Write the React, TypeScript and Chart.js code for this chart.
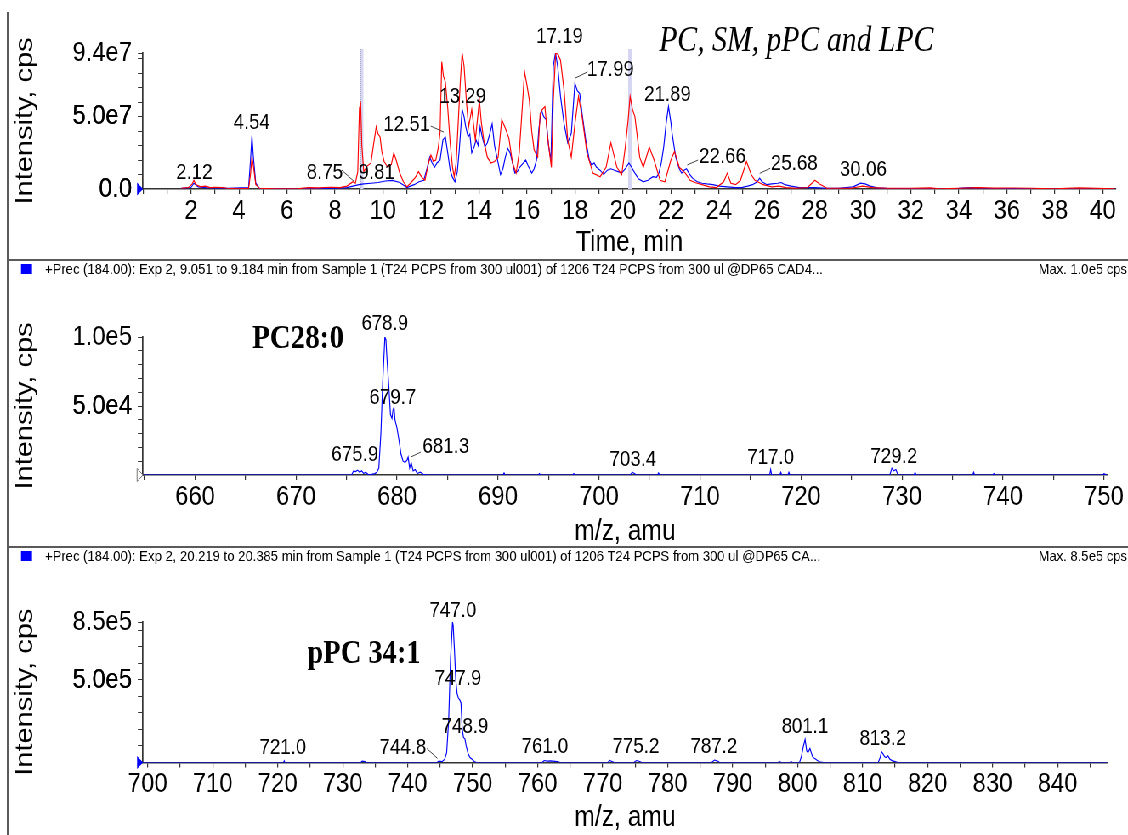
import React, { useEffect, useRef } from "react";
import { Chart, registerables } from "chart.js";
Chart.register(...registerables);

const SANS = '"Liberation Sans", Arial, sans-serif';
const SERIF = '"Liberation Serif", "Times New Roman", serif';

// ---------- Panel 1: chromatogram (time, min; intensity in 1e7 cps) ----------
const redTime = [1.6, 1.9, 2.05, 2.12, 2.2, 2.4, 2.6, 2.8, 3.0, 3.3, 3.5, 4.0, 4.4, 4.48, 4.54, 4.6, 4.7, 4.85, 5.5, 6.5, 6.9, 7.3, 7.8, 8.2, 8.5, 8.75, 8.85, 8.95, 9.02, 9.07, 9.12, 9.2, 9.35, 9.5, 9.62, 9.72, 9.8, 9.88, 9.95, 10.05, 10.2, 10.35, 10.45, 10.55, 10.7, 10.85, 11.0, 11.2, 11.35, 11.48, 11.62, 11.75, 11.9, 12.0, 12.1, 12.2, 12.3, 12.38, 12.45, 12.52, 12.6, 12.7, 12.8, 12.9, 12.97, 13.05, 13.15, 13.22, 13.3, 13.38, 13.48, 13.57, 13.7, 13.85, 13.95, 14.02, 14.1, 14.2, 14.35, 14.5, 14.65, 14.8, 14.95, 15.1, 15.25, 15.4, 15.55, 15.68, 15.8, 15.9, 16.0, 16.1, 16.2, 16.3, 16.45, 16.55, 16.65, 16.75, 16.85, 16.95, 17.02, 17.1, 17.2, 17.3, 17.4, 17.55, 17.7, 17.85, 18.0, 18.15, 18.3, 18.5, 18.75, 19.05, 19.3, 19.5, 19.75, 19.95, 20.1, 20.22, 20.3, 20.4, 20.5, 20.7, 20.85, 21.1, 21.3, 21.55, 21.75, 22.0, 22.15, 22.35, 22.6, 22.8, 23.0, 23.3, 23.6, 23.9, 24.2, 24.35, 24.5, 24.7, 24.9, 25.15, 25.35, 25.5, 25.85, 26.2, 26.5, 26.8, 27.2, 27.7, 28.0, 28.2, 28.5, 29.0, 29.5, 30.0, 30.4, 31.0, 32.0, 32.8, 33.2, 34.0, 34.8, 35.5, 36.3, 37.0, 38.0, 39.0, 40.5];
const redIntensity = [0.05, 0.1, 0.35, 0.6, 0.3, 0.15, 0.2, 0.1, 0.12, 0.1, 0.05, 0.02, 0.05, 1.0, 2.2, 1.6, 0.3, 0.05, 0.02, 0.03, 0.1, 0.08, 0.12, 0.1, 0.2, 0.5, 0.4, 1.2, 5.6, 5.9, 3.0, 1.2, 1.6, 1.8, 3.2, 4.3, 3.8, 3.6, 2.6, 1.9, 1.5, 1.7, 2.5, 2.0, 1.1, 0.5, 0.15, 0.5, 0.8, 1.2, 0.8, 0.6, 1.8, 2.35, 1.9, 2.0, 2.8, 3.9, 8.8, 7.8, 7.4, 5.6, 3.2, 1.5, 0.85, 1.8, 5.0, 7.3, 9.4, 8.5, 6.0, 4.3, 5.5, 3.4, 5.0, 6.15, 4.6, 3.4, 2.2, 1.8, 1.9, 2.2, 4.8, 4.2, 3.5, 1.8, 1.1, 2.5, 5.5, 8.1, 7.2, 6.15, 4.0, 2.7, 2.2, 5.2, 5.5, 5.7, 3.8, 2.4, 1.5, 6.15, 9.4, 9.3, 8.9, 6.8, 3.4, 2.2, 4.5, 6.4, 5.0, 2.5, 1.1, 0.85, 1.5, 3.2, 1.5, 1.0, 2.9, 4.8, 6.4, 5.5, 5.0, 2.2, 1.5, 2.9, 2.0, 0.6, 0.5, 2.0, 2.6, 1.5, 1.1, 0.6, 0.45, 0.3, 0.15, 0.1, 0.5, 1.1, 0.4, 0.3, 0.6, 1.9, 1.0, 0.6, 0.3, 0.15, 0.2, 0.1, 0.05, 0.1, 0.6, 0.35, 0.05, 0.05, 0.05, 0.2, 0.1, 0.05, 0.05, 0.08, 0.02, 0.05, 0.1, 0.06, 0.07, 0.05, 0.02, 0.08, 0.02];
const blueTime = [1.6, 2.0, 2.12, 2.3, 2.6, 3.0, 3.5, 4.4, 4.48, 4.54, 4.6, 4.7, 4.85, 5.5, 7.0, 8.0, 8.5, 8.75, 9.0, 9.2, 9.5, 9.8, 10.1, 10.4, 10.7, 11.0, 11.3, 11.5, 11.7, 11.85, 11.95, 12.05, 12.15, 12.25, 12.38, 12.5, 12.6, 12.7, 12.8, 12.9, 13.0, 13.1, 13.18, 13.3, 13.38, 13.45, 13.55, 13.62, 13.7, 13.8, 13.88, 13.97, 14.05, 14.15, 14.25, 14.35, 14.45, 14.55, 14.65, 14.75, 14.9, 15.0, 15.1, 15.2, 15.3, 15.4, 15.5, 15.6, 15.7, 15.85, 15.95, 16.05, 16.2, 16.3, 16.4, 16.5, 16.6, 16.7, 16.8, 16.9, 17.0, 17.1, 17.19, 17.28, 17.4, 17.55, 17.7, 17.85, 18.0, 18.1, 18.2, 18.3, 18.45, 18.6, 18.7, 18.8, 18.9, 19.05, 19.2, 19.35, 19.5, 19.65, 19.8, 19.95, 20.1, 20.25, 20.4, 20.5, 20.65, 20.85, 21.05, 21.25, 21.4, 21.5, 21.6, 21.7, 21.8, 21.9, 22.0, 22.05, 22.2, 22.35, 22.45, 22.55, 22.65, 22.75, 22.9, 23.1, 23.3, 23.5, 23.75, 24.0, 24.35, 24.7, 24.95, 25.2, 25.4, 25.6, 25.7, 25.8, 26.0, 26.2, 26.45, 26.6, 26.75, 27.0, 27.35, 28.0, 28.5, 29.0, 29.6, 29.9, 30.1, 30.3, 30.6, 31.0, 32.0, 33.0, 34.0, 34.5, 35.0, 36.0, 38.0, 40.5];
const blueIntensity = [0.05, 0.1, 0.4, 0.15, 0.1, 0.08, 0.05, 0.1, 2.0, 3.7, 2.2, 0.4, 0.05, 0.02, 0.03, 0.05, 0.1, 0.2, 0.3, 0.35, 0.4, 0.45, 0.55, 0.6, 0.45, 0.1, 0.3, 0.5, 0.6, 1.5, 2.2, 1.8, 1.5, 1.8, 2.0, 3.4, 3.6, 2.5, 1.3, 0.8, 0.5, 1.2, 2.7, 5.5, 5.0, 4.3, 3.6, 3.8, 2.5, 2.9, 3.4, 3.0, 4.3, 3.5, 2.9, 3.2, 3.8, 4.5, 3.0, 2.2, 1.0, 1.4, 2.2, 2.8, 2.5, 1.8, 1.1, 1.2, 1.5, 1.8, 2.0, 1.6, 1.1, 1.4, 2.0, 4.2, 5.5, 5.0, 4.8, 3.0, 2.0, 8.5, 9.4, 8.5, 6.4, 4.5, 3.2, 3.85, 7.3, 6.8, 6.6, 5.2, 3.4, 2.0, 1.65, 1.8, 1.5, 1.3, 1.0, 1.3, 1.4, 1.3, 1.2, 1.1, 1.4, 1.8, 1.4, 1.1, 0.7, 0.5, 0.6, 0.85, 0.8, 1.1, 1.8, 2.9, 4.5, 5.7, 4.6, 3.85, 2.2, 1.4, 1.1, 1.3, 1.4, 1.1, 0.75, 0.5, 0.4, 0.35, 0.3, 0.2, 0.15, 0.1, 0.1, 0.2, 0.3, 0.5, 0.75, 0.5, 0.3, 0.35, 0.4, 0.45, 0.3, 0.2, 0.1, 0.1, 0.05, 0.05, 0.15, 0.4, 0.35, 0.2, 0.08, 0.05, 0.03, 0.03, 0.05, 0.1, 0.05, 0.03, 0.02, 0.02];
const chromXTickValues = [2, 4, 6, 8, 10, 12, 14, 16, 18, 20, 22, 24, 26, 28, 30, 32, 34, 36, 38, 40];
const chromXTickLabels = ["2", "4", "6", "8", "10", "12", "14", "16", "18", "20", "22", "24", "26", "28", "30", "32", "34", "36", "38", "40"];
const chromYTickValues = [0, 5, 9.4];
const chromYTickLabels = ["0.0", "5.0e7", "9.4e7"];
const chromPeakLabels = ["2.12", "4.54", "8.75", "9.81", "12.51", "13.29", "17.19", "17.99", "21.89", "22.66", "25.68", "30.06"];
const spectrumTimeRanges = [[9.051, 9.184], [20.219, 20.385]];

// ---------- Panel 2: spectrum 9.051-9.184 min (m/z; intensity in 1e4 cps) ----------
const spec1Mz = [654.85, 675.5, 675.7, 675.9, 676.1, 676.3, 676.5, 676.7, 676.9, 677.2, 677.8, 678.0, 678.2, 678.4, 678.6, 678.8, 678.9, 679.0, 679.2, 679.35, 679.5, 679.6, 679.7, 679.8, 680.0, 680.2, 680.4, 680.6, 680.8, 681.0, 681.1, 681.25, 681.4, 681.6, 681.8, 682.0, 682.3, 682.6, 683.0, 690.5, 690.6, 690.7, 694.0, 694.1, 694.2, 697.4, 697.5, 697.6, 703.1, 703.3, 703.5, 703.7, 705.8, 705.9, 706.0, 716.9, 717.0, 717.1, 717.9, 718.0, 718.1, 718.7, 718.8, 718.9, 728.8, 729.0, 729.2, 729.4, 729.6, 731.2, 731.3, 731.4, 737.0, 737.1, 737.2, 739.0, 739.1, 739.2, 749.9, 750.0, 750.3];
const spec1Intensity = [0, 0, 0.3, 0.25, 0.35, 0.2, 0.3, 0.1, 0.2, 0, 0.1, 0.2, 0.5, 3.0, 7.0, 10.0, 9.8, 8.5, 6.3, 4.4, 4.1, 4.7, 4.9, 4.0, 3.4, 2.5, 1.5, 1.0, 0.9, 1.1, 1.3, 0.5, 0.9, 0.3, 0.4, 0.1, 0.2, 0.05, 0, 0, 0.15, 0, 0, 0.1, 0, 0, 0.1, 0, 0, 0.2, 0.1, 0, 0, 0.15, 0, 0, 0.4, 0, 0, 0.2, 0, 0, 0.2, 0, 0, 0.5, 0.3, 0.4, 0, 0, 0.2, 0, 0, 0.2, 0, 0, 0.1, 0, 0, 0.1, 0];
const spec1XTickValues = [660, 670, 680, 690, 700, 710, 720, 730, 740, 750];
const spec1XTickLabels = ["660", "670", "680", "690", "700", "710", "720", "730", "740", "750"];
const spec1YTickValues = [5, 10];
const spec1YTickLabels = ["5.0e4", "1.0e5"];
const spec1PeakLabels = ["678.9", "679.7", "675.9", "681.3", "703.4", "717.0", "729.2"];

// ---------- Panel 3: spectrum 20.219-20.385 min (m/z; intensity in 1e5 cps) ----------
const spec2Mz = [699.28, 720.9, 721.0, 721.1, 732.8, 733.0, 733.4, 733.6, 744.5, 744.8, 745.3, 745.7, 746.0, 746.3, 746.6, 746.9, 747.0, 747.2, 747.4, 747.6, 747.8, 748.0, 748.2, 748.4, 748.6, 748.8, 749.0, 749.3, 749.6, 749.9, 750.3, 750.6, 760.7, 761.0, 761.5, 762.0, 763.0, 763.5, 770.8, 771.1, 771.5, 771.8, 774.8, 775.2, 775.6, 776.0, 786.8, 787.2, 787.6, 788.0, 797.0, 797.2, 797.5, 798.8, 799.0, 799.2, 800.3, 800.6, 800.9, 801.15, 801.4, 801.6, 801.9, 802.1, 802.3, 802.6, 802.8, 803.1, 803.5, 804.0, 812.4, 812.7, 812.9, 813.1, 813.4, 813.6, 813.9, 814.2, 814.6, 815.0, 815.4, 847.6];
const spec2Intensity = [0, 0, 0.1, 0, 0, 0.08, 0.05, 0, 0, 0.08, 0.05, 0.2, 0.6, 2.5, 6.3, 8.5, 8.3, 6.8, 5.0, 4.2, 3.9, 3.8, 3.6, 2.0, 1.5, 1.45, 1.0, 0.55, 0.3, 0.2, 0.05, 0, 0, 0.12, 0.08, 0.1, 0.05, 0, 0, 0.12, 0.05, 0, 0, 0.12, 0.08, 0, 0, 0.15, 0.1, 0, 0, 0.05, 0, 0, 0.05, 0, 0, 0.4, 1.0, 1.4, 0.7, 0.6, 0.85, 0.6, 0.35, 0.25, 0.2, 0.1, 0.02, 0, 0, 0.3, 0.65, 0.55, 0.35, 0.3, 0.4, 0.2, 0.1, 0.05, 0, 0];
const spec2XTickValues = [700, 710, 720, 730, 740, 750, 760, 770, 780, 790, 800, 810, 820, 830, 840];
const spec2XTickLabels = ["700", "710", "720", "730", "740", "750", "760", "770", "780", "790", "800", "810", "820", "830", "840"];
const spec2YTickValues = [5, 8.5];
const spec2YTickLabels = ["5.0e5", "8.5e5"];
const spec2PeakLabels = ["747.0", "747.9", "748.9", "721.0", "744.8", "761.0", "775.2", "787.2", "801.1", "813.2"];

// ---------- layout: the figure is drawn wide and squeezed horizontally ----------
const W = 1327;              // internal drawing width
const SX = 1128 / W;         // horizontal squeeze of the whole figure
const X = (px: number) => px / SX;

type Pt = [number, number];
type Panel = {
  top: number; height: number; chartTop: number; chartBottom: number; chartRight: number;
  xMin: number; xMax: number; yMax: number; minorX: number; minorY: number[];
  xTickValues: number[]; xTickLabels: string[]; yTickValues: number[]; yTickLabels: string[];
  xTitle: string; xTitlePad: number;
  series: { xs: number[]; ys: number[]; color: string }[];
  labels: { text: string; at: Pt }[];
  leaders: [Pt, Pt][];
  bigText?: { text: string; at: Pt; font: string };
  bands?: number[][];
  marker: "filled" | "hollow";
  header?: { text: string; max: string; y: number };
};

const range = (a: number, b: number, s: number) => { const r: number[] = []; for (let v = a; v <= b + 1e-9; v += s) r.push(+v.toFixed(4)); return r; };

const panels: Panel[] = [
  {
    top: 0, height: 260, chartTop: 53, chartBottom: 189, chartRight: X(1116),
    xMin: 0, xMax: 40.55, yMax: 9.4, minorX: 1, minorY: range(1, 9, 1),
    xTickValues: chromXTickValues, xTickLabels: chromXTickLabels,
    yTickValues: chromYTickValues, yTickLabels: chromYTickLabels,
    xTitle: "Time, min", xTitlePad: 3,
    series: [
      { xs: redTime, ys: redIntensity, color: "#ff0000" },
      { xs: blueTime, ys: blueIntensity, color: "#0000ff" },
    ],
    labels: chromPeakLabels.map((t, i) => ({ text: t, at: ([[2.14, 1.1], [4.53, 4.58], [7.58, 1.1], [9.74, 1.1], [10.99, 4.42], [13.32, 6.36], [17.36, 10.5], [19.48, 8.22], [21.86, 6.5], [24.15, 2.21], [27.14, 1.73], [30.02, 1.31]] as Pt[])[i] })),
    leaders: [[[8.28, 1.31], [8.81, 0.5]], [[11.99, 4.35], [12.53, 3.94]], [[18.0, 7.65], [18.53, 8.1]], [[22.68, 1.66], [23.13, 2.0]], [[25.7, 1.08], [26.14, 1.43]]],
    bigText: { text: "PC, SM, pPC and LPC", at: [27.23, 10.2], font: `italic 35px ${SERIF}` },
    bands: spectrumTimeRanges,
    marker: "filled",
  },
  {
    top: 260, height: 287, chartTop: 77, chartBottom: 215, chartRight: X(1107),
    xMin: 654.85, xMax: 750.3, yMax: 10, minorX: 5, minorY: range(1, 9, 1),
    xTickValues: spec1XTickValues, xTickLabels: spec1XTickLabels,
    yTickValues: spec1YTickValues, yTickLabels: spec1YTickLabels,
    xTitle: "m/z, amu", xTitlePad: 1,
    series: [{ xs: spec1Mz, ys: spec1Intensity, color: "#0000ff" }],
    labels: spec1PeakLabels.map((t, i) => ({ text: t, at: ([[678.79, 10.97], [679.58, 5.56], [675.82, 1.44], [684.83, 2.02], [703.35, 1.08], [717.0, 1.23], [729.2, 1.3]] as Pt[])[i] })),
    leaders: [[[681.36, 1.3], [682.35, 1.66]]],
    bigText: { text: "PC28:0", at: [670.2, 9.81], font: `bold 34px ${SERIF}` },
    marker: "hollow",
    header: { text: "+Prec (184.00): Exp 2, 9.051 to 9.184 min from Sample 1 (T24 PCPS from 300 ul001) of 1206 T24 PCPS from 300 ul @DP65 CAD4...", max: "Max. 1.0e5 cps", y: 10 },
  },
  {
    top: 547, height: 288, chartTop: 75, chartBottom: 215.5, chartRight: X(1107),
    xMin: 699.28, xMax: 847.6, yMax: 8.5, minorX: 5, minorY: range(1, 8, 1),
    xTickValues: spec2XTickValues, xTickLabels: spec2XTickLabels,
    yTickValues: spec2YTickValues, yTickLabels: spec2YTickLabels,
    xTitle: "m/z, amu", xTitlePad: 3,
    series: [{ xs: spec2Mz, ys: spec2Intensity, color: "#0000ff" }],
    labels: spec2PeakLabels.map((t, i) => ({ text: t, at: ([[746.97, 9.15], [747.74, 5.07], [748.82, 2.13], [720.8, 0.87], [739.28, 0.87], [761.12, 0.93], [775.12, 0.93], [787.12, 0.93], [801.12, 2.13], [813.12, 1.41]] as Pt[])[i] })),
    leaders: [[[742.94, 0.85], [744.58, 0.25]]],
    bigText: { text: "pPC 34:1", at: [733.28, 6.57], font: `bold 33.5px ${SERIF}` },
    marker: "filled",
    header: { text: "+Prec (184.00): Exp 2, 20.219 to 20.385 min from Sample 1 (T24 PCPS from 300 ul001) of 1206 T24 PCPS from 300 ul @DP65 CA...", max: "Max. 8.5e5 cps", y: 10 },
  },
];

function text(ctx: CanvasRenderingContext2D, s: string, x: number, y: number, font: string, align: CanvasTextAlign = "center") {
  ctx.save();
  ctx.font = font;
  ctx.textAlign = align;
  ctx.textBaseline = "middle";
  ctx.fillStyle = "#000";
  ctx.fillText(s, x, y);
  ctx.restore();
}

function overlay(p: Panel) {
  return {
    id: "overlay",
    beforeDatasetsDraw(chart: any) {
      const ctx = chart.ctx as CanvasRenderingContext2D;
      const xs = chart.scales.x, a = chart.chartArea;
      (p.bands || []).forEach((b, i) => {
        const x1 = xs.getPixelForValue(b[0]), x2 = xs.getPixelForValue(b[1]);
        ctx.save();
        ctx.fillStyle = "#d6d6f3";
        ctx.fillRect(x1, a.top - 4, x2 - x1, a.bottom - a.top + 4);
        if (i === 0) {
          ctx.strokeStyle = "#555";
          ctx.lineWidth = 1.2;
          ctx.setLineDash([1, 1]);
          ctx.beginPath();
          ctx.moveTo(x1, a.top - 4);
          ctx.lineTo(x1, a.bottom);
          ctx.stroke();
        }
        ctx.restore();
      });
    },
    afterDraw(chart: any) {
      const ctx = chart.ctx as CanvasRenderingContext2D;
      const xs = chart.scales.x, ys = chart.scales.y, a = chart.chartArea;
      const P = (pt: Pt): Pt => [xs.getPixelForValue(pt[0]), ys.getPixelForValue(pt[1])];
      const lf = `22px ${SANS}`;
      p.labels.forEach((l) => { const [x, y] = P(l.at); text(ctx, l.text, x, y, lf); });
      ctx.save();
      ctx.strokeStyle = "#444";
      ctx.lineWidth = 1;
      p.leaders.forEach(([s, e]) => {
        const [x1, y1] = P(s), [x2, y2] = P(e);
        ctx.beginPath(); ctx.moveTo(x1, y1); ctx.lineTo(x2, y2); ctx.stroke();
      });
      ctx.restore();
      if (p.bigText) { const [x, y] = P(p.bigText.at); text(ctx, p.bigText.text, x, y, p.bigText.font, "center"); }
      // baseline marker triangle
      ctx.save();
      ctx.beginPath();
      ctx.moveTo(a.left - 7, a.bottom - 6.5);
      ctx.lineTo(a.left - 7, a.bottom + 6.5);
      ctx.lineTo(a.left, a.bottom);
      ctx.closePath();
      if (p.marker === "filled") { ctx.fillStyle = "#0000ff"; ctx.fill(); }
      else { ctx.fillStyle = "#fff"; ctx.fill(); ctx.strokeStyle = "#777"; ctx.lineWidth = 1; ctx.stroke(); }
      ctx.restore();
      if (p.header) {
        ctx.save();
        ctx.fillStyle = "#0000ff";
        ctx.fillRect(X(21), p.header.y - 6, X(11), 10);
        ctx.restore();
        text(ctx, p.header.text, X(45), p.header.y, `15.4px ${SANS}`, "left");
        text(ctx, p.header.max, W - 1, p.header.y, `15.4px ${SANS}`, "right");
      }
    },
  };
}

function PanelChart({ p }: { p: Panel }) {
  const ref = useRef<HTMLCanvasElement | null>(null);
  useEffect(() => {
    const canvas = ref.current!;
    const minorXs = range(Math.ceil(p.xMin / p.minorX) * p.minorX, p.xMax, p.minorX);
    const chart = new Chart(canvas, {
      type: "line",
      data: {
        datasets: p.series.map((s) => ({
          data: s.xs.map((x, i) => ({ x, y: s.ys[i] })),
          borderColor: s.color,
          borderWidth: 1.15,
          pointRadius: 0,
          fill: false,
          tension: 0,
        })),
      },
      options: {
        responsive: false,
        animation: false,
        devicePixelRatio: 1,
        events: [],
        layout: { padding: { top: p.chartTop, right: W - p.chartRight, left: 0, bottom: 0 } },
        plugins: { legend: { display: false }, tooltip: { enabled: false } },
        scales: {
          x: {
            type: "linear",
            min: p.xMin,
            max: p.xMax,
            afterBuildTicks: (s: any) => { s.ticks = minorXs.map((v) => ({ value: v })); },
            afterFit: (s: any) => { s.height = p.height - p.chartBottom; },
            ticks: {
              autoSkip: false, maxRotation: 0, minRotation: 0, padding: 3, color: "#000",
              font: { family: SANS, size: 28, lineHeight: 1 },
              callback: (v: any) => { const i = p.xTickValues.findIndex((t) => Math.abs(t - v) < 1e-6); return i >= 0 ? p.xTickLabels[i] : ""; },
            },
            grid: { display: true, drawOnChartArea: false, drawTicks: true, tickLength: 5, color: "#333", lineWidth: 1.2 },
            border: { display: true, color: "#333", width: 1.5 },
            title: { display: true, text: p.xTitle, color: "#000", font: { family: SANS, size: 29, lineHeight: 1 }, padding: { top: 0, bottom: p.xTitlePad } },
          },
          y: {
            type: "linear",
            min: 0,
            max: p.yMax,
            afterBuildTicks: (s: any) => { s.ticks = [0, ...p.minorY, ...p.yTickValues].sort((m, n) => m - n).map((v) => ({ value: v })); },
            afterFit: (s: any) => { s.width = X(143); },
            ticks: {
              autoSkip: false, padding: 7, color: "#000",
              font: { family: SANS, size: 28, lineHeight: 1 },
              callback: (v: any) => { const i = p.yTickValues.findIndex((t) => Math.abs(t - v) < 1e-6); return i >= 0 ? p.yTickLabels[i] : ""; },
            },
            grid: { display: true, drawOnChartArea: false, drawTicks: true, tickLength: 6, color: "#333", lineWidth: 1 },
            border: { display: true, color: "#333", width: 1.7 },
            title: { display: true, text: "Intensity, cps", color: "#000", font: { family: SANS, size: 29, lineHeight: 1 }, padding: { top: 15, bottom: 0 } },
          },
        },
      },
      plugins: [overlay(p)],
    } as any);
    return () => chart.destroy();
  }, [p]);
  return (
    <canvas ref={ref} width={W} height={p.height}
      style={{ position: "absolute", left: 0, top: p.top, width: W, height: p.height }} />
  );
}

export default function App() {
  return (
    <div style={{ position: "fixed", left: 0, top: 0, width: 1128, height: 835, background: "#fff", overflow: "hidden" }}>
      <div style={{ position: "absolute", left: 0, top: 0, width: W, height: 835, transform: `scaleX(${SX})`, transformOrigin: "0 0" }}>
        {panels.map((p, i) => <PanelChart key={i} p={p} />)}
        <div style={{ position: "absolute", left: X(7), top: 12, width: X(2), height: 823, background: "#5a5a5a" }} />
        <div style={{ position: "absolute", left: X(7), top: 259, width: W, height: 2, background: "#5a5a5a" }} />
        <div style={{ position: "absolute", left: X(7), top: 546, width: W, height: 2, background: "#5a5a5a" }} />
      </div>
    </div>
  );
}
